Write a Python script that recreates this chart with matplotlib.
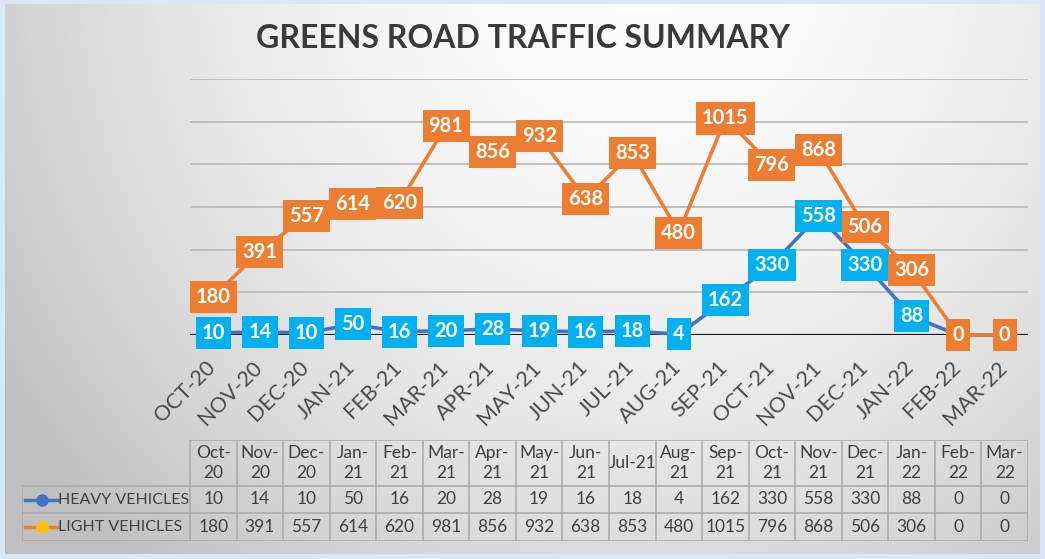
import numpy as np
import matplotlib
matplotlib.use("Agg")
import matplotlib.pyplot as plt
from matplotlib.lines import Line2D
from matplotlib.transforms import ScaledTranslation

# ---------------- data ----------------
categories = ['Oct-20', 'Nov-20', 'Dec-20', 'Jan-21', 'Feb-21', 'Mar-21', 'Apr-21',
              'May-21', 'Jun-21', 'Jul-21', 'Aug-21', 'Sep-21', 'Oct-21', 'Nov-21',
              'Dec-21', 'Jan-22', 'Feb-22', 'Mar-22']
heavy = [10, 14, 10, 50, 16, 20, 28, 19, 16, 18, 4, 162, 330, 558, 330, 88, 0, 0]
light = [180, 391, 557, 614, 620, 981, 856, 932, 638, 853, 480, 1015, 796, 868, 506, 306, 0, 0]
table_headers = ['Oct-\n20', 'Nov-\n20', 'Dec-\n20', 'Jan-\n21', 'Feb-\n21', 'Mar-\n21',
                 'Apr-\n21', 'May-\n21', 'Jun-\n21', 'Jul-21', 'Aug-\n21', 'Sep-\n21',
                 'Oct-\n21', 'Nov-\n21', 'Dec-\n21', 'Jan-\n22', 'Feb-\n22', 'Mar-\n22']
series_names = ['HEAVY VEHICLES', 'LIGHT VEHICLES']
title = 'GREENS ROAD TRAFFIC SUMMARY'

FONT = 'Lato'
HEAVY_LINE = '#4472C4'
HEAVY_BOX = '#00B0F0'
LIGHT_LINE = '#ED7D31'
LIGHT_MARK = '#FFC000'

W, H = 1045, 559
fig = plt.figure(figsize=(W / 100, H / 100), dpi=100)
fig.patch.set_facecolor('#dce7f5')


def px_rect(x0, y0, x1, y1):
    return [x0 / W, 1 - y1 / H, (x1 - x0) / W, (y1 - y0) / H]


# ---------------- background gradient ----------------
bg = fig.add_axes(px_rect(5, 4, 1040, 554))
gh, gw = 550, 1035
yy, xx = np.mgrid[0:gh, 0:gw]
d = np.sqrt(((xx - 640) / 700.0) ** 2 + ((yy + 60) / 760.0) ** 2)
v = np.clip(0.99 - 0.2 * d ** 2, 0.75, 1.0)
img = np.dstack([v, v, v])
bg.imshow(img, aspect='auto', extent=(0, gw, gh, 0), interpolation='bilinear')
bg.set_axis_off()

# ---------------- title ----------------
fig.text(523 / W, 1 - 38 / H, title, ha='center', va='center', fontsize=23,
         fontweight='bold', family=FONT, color='#3a3a3a')

# ---------------- main chart ----------------
ax = fig.add_axes(px_rect(190, 79, 1028, 335))
ax.set_facecolor('none')
x = np.arange(len(categories))
ax.set_xlim(-0.5, len(categories) - 0.5)
ax.set_ylim(0, 1200)
for yv in range(200, 1201, 200):
    ax.axhline(yv, color='#bcbcbc', lw=1.3, zorder=1)
ax.axhline(0, color='#1a1a1a', lw=1.6, zorder=1.5)
for s in ax.spines.values():
    s.set_visible(False)
ax.set_yticks([])
ax.set_xticks(x)
ax.set_xticklabels([c.upper() for c in categories], rotation=45, ha='right',
                   rotation_mode='anchor', fontsize=15.5, family=FONT, color='#4a4a4a')
ax.tick_params(axis='x', length=0, pad=16)
shift = ScaledTranslation(-8 / 100, 0, fig.dpi_scale_trans)
for lbl in ax.get_xticklabels():
    lbl.set_transform(lbl.get_transform() + shift)

ax.plot(x, heavy, color=HEAVY_LINE, lw=2.6, marker='o', ms=15,
        mfc=HEAVY_LINE, mec=HEAVY_LINE, zorder=3, clip_on=False)
ax.plot(x, light, color=LIGHT_LINE, lw=2.6, marker='o', ms=15,
        mfc=LIGHT_MARK, mec=LIGHT_MARK, zorder=3.5, clip_on=False)

for xi, val in zip(x, heavy):
    ax.text(xi, val, str(val), ha='center', va='center', fontsize=14.5, fontweight='bold',
            family=FONT, color='white', zorder=5, clip_on=False,
            bbox=dict(boxstyle='square,pad=0.3', fc=HEAVY_BOX, ec='none'))
for xi, val in zip(x, light):
    ax.text(xi, val, str(val), ha='center', va='center', fontsize=14.5, fontweight='bold',
            family=FONT, color='white', zorder=6, clip_on=False,
            bbox=dict(boxstyle='square,pad=0.3', fc=LIGHT_LINE, ec='none'))

# ---------------- data table ----------------
n = len(categories)
unit = 838.0 / n            # pixels per category
left_w = 168.0 / unit       # width of the row-label column in category units
x0 = -0.5 - left_w
tab = fig.add_axes(px_rect(22, 440, 1028, 541))
tab.set_xlim(x0, n - 0.5)
tab.set_ylim(101, 0)
tab.set_axis_off()
tab.patch.set_alpha(0)
gc = '#a8a8a8'
rows_y = [0, 46, 73, 101]
tab.plot([-0.5, n - 0.5], [0, 0], color=gc, lw=1.1)
for yv in rows_y[1:]:
    tab.plot([x0, n - 0.5], [yv, yv], color=gc, lw=1.1)
for i in range(n + 1):
    tab.plot([i - 0.5, i - 0.5], [0, 101], color=gc, lw=1.1)
tab.plot([x0, x0], [46, 101], color=gc, lw=1.1)

tcol = '#404040'
for i, h in enumerate(table_headers):
    tab.text(i, 23, h, ha='center', va='center', fontsize=12.5, family=FONT,
             color=tcol, linespacing=1.25)
    tab.text(i, 59.5, str(heavy[i]), ha='center', va='center', fontsize=12.5,
             family=FONT, color=tcol)
    tab.text(i, 87, str(light[i]), ha='center', va='center', fontsize=12.5,
             family=FONT, color=tcol)

for name, yc, lc, mc in [(series_names[0], 59.5, HEAVY_LINE, HEAVY_LINE),
                         (series_names[1], 87, LIGHT_LINE, LIGHT_MARK)]:
    xa = x0 + 3 / unit
    xb = x0 + 36 / unit
    tab.add_line(Line2D([xa, xb], [yc, yc], color=lc, lw=2.5))
    tab.plot([(xa + xb) / 2], [yc], marker='o', ms=8, mfc=mc, mec=mc)
    tab.text(xb + 0.5 / unit, yc, name, ha='left', va='center', fontsize=11.5,
             family=FONT, color=tcol)

fig.savefig('out.png', dpi=100, facecolor=fig.get_facecolor())
